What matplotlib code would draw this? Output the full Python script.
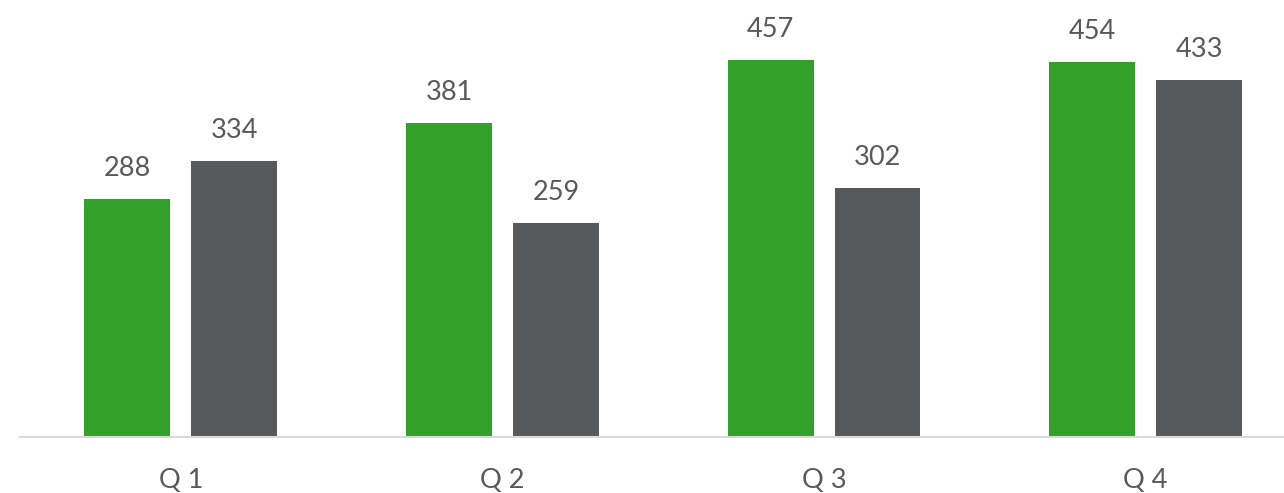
import matplotlib
matplotlib.use("Agg")
import matplotlib.pyplot as plt
import numpy as np

categories = ["Q 1", "Q 2", "Q 3", "Q 4"]
series_green = [288, 381, 457, 454]
series_gray = [334, 259, 302, 433]

W, H = 1284, 493
fig = plt.figure(figsize=(W / 100, H / 100), dpi=100)
ax = fig.add_axes([20 / W, (H - 437) / H, (W - 20) / W, 437 / H])

x = np.arange(len(categories))
bw = 0.267
off = 0.1663
green = "#33A02C"
gray = "#58595B"
ax.bar(x - off, series_green, bw, color=green)
ax.bar(x + off, series_gray, bw, color=gray)

font = "Lato"
for xi, v in zip(x - off, series_green):
    ax.annotate(str(v), (xi, v), xytext=(0, 13), textcoords="offset points",
                ha="center", va="bottom", fontsize=19.5, color="#595959", family=font)
for xi, v in zip(x + off, series_gray):
    ax.annotate(str(v), (xi, v), xytext=(0, 13), textcoords="offset points",
                ha="center", va="bottom", fontsize=19.5, color="#595959", family=font)

ax.set_xlim(-0.5, 3.43)
ax.set_ylim(0, 437 / 0.825)
ax.set_xticks(x)
ax.set_xticklabels(categories, fontsize=19.5, color="#595959", family=font)
ax.tick_params(axis="x", length=0, pad=22)
ax.set_yticks([])
for s in ["top", "right", "left"]:
    ax.spines[s].set_visible(False)
ax.spines["bottom"].set_color("#D9D9D9")
ax.spines["bottom"].set_linewidth(1.5)

fig.savefig("out.png", dpi=100)
